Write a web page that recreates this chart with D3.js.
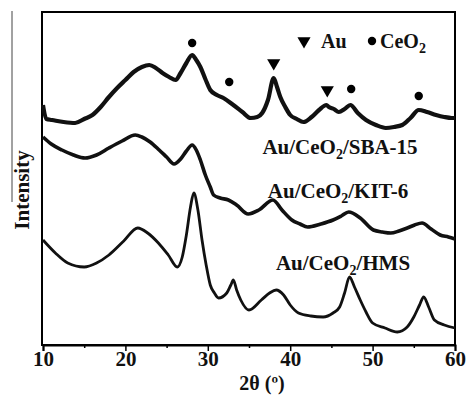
<!DOCTYPE html>
<html><head><meta charset="utf-8">
<script src="https://cdn.jsdelivr.net/npm/d3@7"></script>
<style>body{margin:0;background:#fff}svg{display:block}</style>
</head><body>
<script>
// 2θ (degrees) and intensity (a.u.)
const thetaTop = [10,10.4,11.1,12.5,13.9,15,16,17,18,19,20,21,22,22.9,23.7,24.5,25.3,26.1,26.7,27.4,28.1,28.6,29.1,29.7,30.3,31.1,31.9,33.1,34.2,35.2,36,36.6,37.3,38,38.4,38.8,39.4,40,40.8,41.6,42.6,43.5,44.4,44.7,45.3,45.9,46.6,47.3,48.2,49.2,50.4,51.6,52.6,53.6,54.6,55.6,56.6,57.7,58.7,59.6,60];
const intTop   = [240,226,225,223,222,226,230,238,248,257,265,273,278,280,277,272,268,265,272,282,290,285,278,266,255,250,247,240,233,227,228,232,245,267,258,248,238,230,226,223,228,235,240,238,236,233,236,240,232,225,220,217,218,220,227,235,233,230,228,227,227];

const thetaMid = [10,11,12.3,13.7,15.1,16.5,18,19.6,21.2,22,23,24.1,25,25.9,26.7,27.4,28.1,28.6,29.1,29.7,30.3,30.7,31.5,32.5,33.5,34.9,36.2,37.9,39,40.2,41.2,42.1,43.7,45.2,46.2,47.1,48.5,50.1,51.2,52.2,53.2,54.2,55.1,56,57.1,58.2,59.2,60];
const intMid   = [208,201,195,190,187,190,197,204,210,208,203,195,188,181,186,194,200,195,185,170,158,150,147,145,140,131,135,145,135,125,121,118,121,125,129,133,127,115,113,112,114,117,120,122,116,110,108,106];

const thetaBot = [10,11.5,13,15,16.5,18,19.8,21.5,22.7,24,25.2,26.3,26.9,27.4,27.9,28.3,28.8,29.3,29.8,30.3,30.8,31.3,32.3,32.8,33.1,33.5,34,35,36.5,37.5,38.3,39.2,40,41,42.5,44,45.2,46,46.6,47.2,47.8,48.5,49.2,50,51.5,53,54.2,55,55.7,56.2,56.8,57.5,58.7,60];
const intBot   = [105,92,82,78,82,90,104,117,112,102,90,78,88,110,138,152,135,105,80,60,52,47,52,60,65,55,45,35,45,52,55,50,40,32,29,28,32,38,52,68,58,45,33,22,17,13,18,28,40,48,38,25,20,17];

const curveLabels = ["Au/CeO|2|/SBA-15","Au/CeO|2|/KIT-6","Au/CeO|2|/HMS"];
const xTicks = [10,20,30,40,50,60];
const xMinorTicks = [15,25,35,45,55];
// markers: phase and 2θ / intensity position above peaks
const markerPhase = ["CeO2","CeO2","Au","Au","CeO2","CeO2"];
const markerTheta = [28.1,32.6,38.0,44.5,47.4,55.6];
const markerInt   = [302,263,282,255,256,249];

const W=468,H=397;
const svg=d3.select("body").append("svg").attr("width",W).attr("height",H);
const x=d3.scaleLinear().domain([10,60]).range([43,455]);
const y=d3.scaleLinear().domain([0,333]).range([345,12]);
const serif="'Liberation Serif','Times New Roman',serif";

// frame
svg.append("rect").attr("x",42).attr("y",12).attr("width",413).attr("height",333)
  .attr("fill","none").attr("stroke","#000").attr("stroke-width",2);

// x axis
const ax=svg.append("g").attr("transform","translate(0,345)")
  .call(d3.axisBottom(x).tickValues(xTicks).tickSize(6).tickFormat(d3.format("d")));
ax.select(".domain").attr("stroke-width",2);
ax.selectAll(".tick line").attr("stroke-width",1.5);
ax.selectAll("text").attr("font-family",serif).attr("font-weight","bold").attr("font-size",21).attr("dy","0.55em").attr("y",9).attr("fill","#111");
const axm=svg.append("g").attr("transform","translate(0,345)")
  .call(d3.axisBottom(x).tickValues(xMinorTicks).tickSize(3).tickFormat(""));
axm.select(".domain").remove();
axm.selectAll(".tick line").attr("stroke-width",1.5);

svg.append("text").attr("x",262).attr("y",390).attr("text-anchor","middle")
  .attr("font-family",serif).attr("font-weight","bold").attr("font-size",20).attr("fill","#111").text("2θ (º)");

// y label and stray line
svg.append("line").attr("x1",12).attr("x2",12).attr("y1",11).attr("y2",202).attr("stroke","#444").attr("stroke-width",1);
svg.append("text").attr("transform","translate(29,190) rotate(-90)").attr("text-anchor","middle")
  .attr("font-family",serif).attr("font-weight","bold").attr("font-size",21).attr("fill","#111").text("Intensity");

// curves
const line=d3.line().x(d=>x(d[0])).y(d=>y(d[1])).curve(d3.curveMonotoneX);
const series=[[thetaTop,intTop,4.2],[thetaMid,intMid,3.6],[thetaBot,intBot,2.8]];
series.forEach(([t,v,w])=>{
  svg.append("path").datum(t.map((d,i)=>[d,v[i]])).attr("d",line)
    .attr("fill","none").attr("stroke","#111").attr("stroke-width",w).attr("stroke-linejoin","round");
});

// curve labels
const labelPos=[[340,154],[338,198],[343,270]];
curveLabels.forEach((s,i)=>{
  const parts=s.split("|");
  const t=svg.append("text").attr("x",labelPos[i][0]).attr("y",labelPos[i][1]).attr("text-anchor","middle")
    .attr("font-family",serif).attr("font-weight","bold").attr("font-size",21).attr("fill","#111");
  t.append("tspan").text(parts[0]);
  t.append("tspan").attr("font-size",14).attr("dy",5).text(parts[1]);
  t.append("tspan").attr("dy",-5).text(parts[2]);
});

// markers
const tri=d3.symbol().type(d3.symbolTriangle).size(75);
function marker(phase,cx,cy){
  if(phase==="Au") svg.append("path").attr("d",tri).attr("transform",`translate(${cx},${cy}) rotate(180)`).attr("fill","#000");
  else svg.append("circle").attr("cx",cx).attr("cy",cy).attr("r",4.2).attr("fill","#000");
}
markerPhase.forEach((p,i)=>marker(p,x(markerTheta[i]),y(markerInt[i])));

// legend
marker("Au",304,41);
svg.append("text").attr("x",321).attr("y",48).attr("font-family",serif).attr("font-weight","bold").attr("font-size",20).attr("fill","#111").text("Au");
marker("CeO2",372,41);
const lt=svg.append("text").attr("x",380).attr("y",48).attr("font-family",serif).attr("font-weight","bold").attr("font-size",20).attr("fill","#111");
lt.append("tspan").text("CeO");
lt.append("tspan").attr("font-size",14).attr("dy",5).text("2");
</script>
</body></html>
